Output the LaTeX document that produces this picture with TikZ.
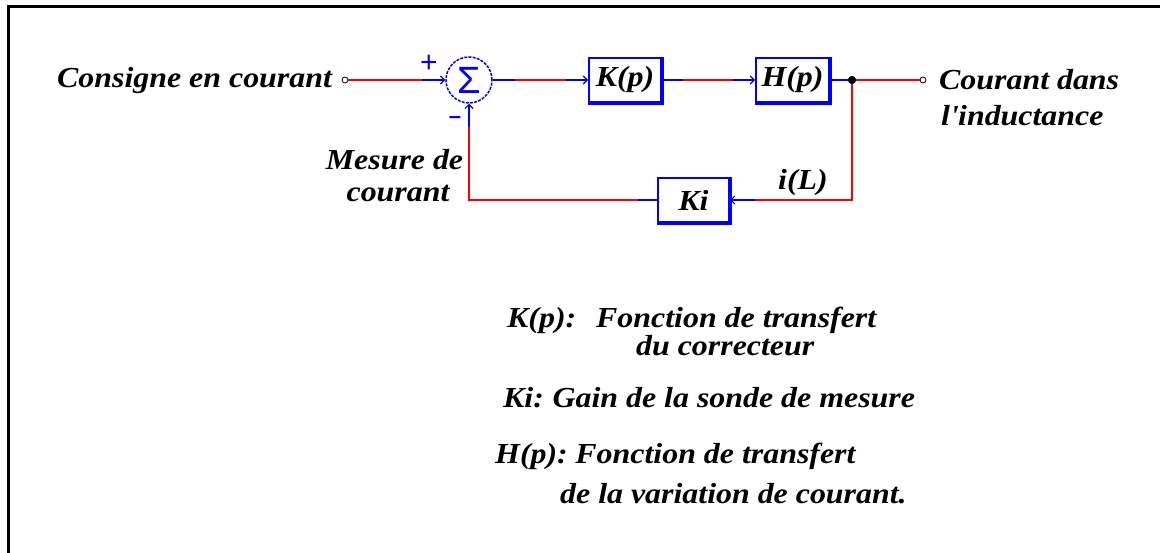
\documentclass[tikz,border=0pt]{standalone}
\usepackage{fontspec}
\usetikzlibrary{arrows.meta}
\newfontfamily\labfont[FakeStretch=1.1]{Liberation Serif}
\newfontfamily\signfont{Liberation Sans}
\definecolor{wire}{RGB}{255,0,0}
\definecolor{blk}{RGB}{0,0,255}

\begin{document}
\begin{tikzpicture}[x=1pt,y=-1pt,
  lab/.style={font=\labfont\bfseries\itshape\fontsize{29}{32}\selectfont, inner sep=0pt},
  block/.style={draw=blk, line width=2pt, minimum width=72pt, minimum height=44pt, inner sep=0pt, lab},
  redw/.style={draw=wire, line width=2pt},
  bluew/.style={draw=blk, line width=2pt},
  tip/.style={-{Straight Barb[length=4pt,width=8pt,line width=1.2pt]}},
  port/.style={circle, draw=black, line width=0.8pt, inner sep=0pt, minimum size=6pt, fill=white},
  sign/.style={text=blk, inner sep=0pt},
  sumnode/.style={circle, draw=blk, line width=1.5pt, dash pattern=on 3pt off 1.2pt,
    minimum size=46pt, inner sep=0pt, text=blk, font=\signfont\fontsize{38}{38}\selectfont},
]
\useasboundingbox (0,0) rectangle (1160,553);

% outer frame (top and left edges)
\draw[line width=2.6pt] (8.7,553) -- (8.7,6.7) -- (1160,6.7);

% blocks
\node[sumnode] (sum) at (469,80) {Σ};
\node[block] (K) at (625,80) {K(p)};
\node[block, minimum width=73pt] (H) at (792.5,80) {H(p)};
\node[block, minimum width=71pt] (Ki) at (693.5,200) {Ki};
\foreach \b in {K,H,Ki}{
  \draw[blk, line width=2pt] ([shift={(1pt,0pt)}]\b.north east) -- ([shift={(1pt,-1pt)}]\b.south east) -- ([shift={(0pt,-1pt)}]\b.south west);
}

% ports and branch point
\node[port] (in) at (345,80) {};
\node[port] (out) at (923,80) {};
\node[circle, fill=black, inner sep=0pt, minimum size=8pt] (tap) at (852,80) {};

% signs of the summing junction
\node[sign, font=\signfont\fontsize{30}{30}\selectfont] (plus) at (429,63.5) {+};
\node[sign, font=\signfont\bfseries\fontsize{22}{22}\selectfont] (minus) at (455,120) {–};

% wire break points
\coordinate (a1) at (422,80);
\coordinate (a2) at (515,80);
\coordinate (a3) at (566,80);
\coordinate (a4) at (683,80);
\coordinate (a5) at (733,80);
\coordinate (fbR) at (852,200);
\coordinate (fb1) at (755,200);
\coordinate (fb2) at (638,200);
\coordinate (fbL) at (469,200);
\coordinate (fb3) at (469,127);

% forward path
\draw[redw] (in) -- (a1);
\draw[bluew, tip] (a1) -- (sum);
\draw[bluew] (sum) -- (a2);
\draw[redw] (a2) -- (a3);
\draw[bluew, tip] (a3) -- (K);
\draw[bluew] (K) -- (a4);
\draw[redw] (a4) -- (a5);
\draw[bluew, tip] (a5) -- (H);
\draw[bluew] (H) -- (tap);
\draw[redw] (tap) -- (out);

% feedback path
\draw[redw] (tap) -- (fbR) -- (fb1);
\draw[bluew, tip] (fb1) -- (Ki);
\draw[bluew] (Ki) -- (fb2);
\draw[redw] (fb2) -- (fbL) -- (fb3);
\draw[bluew, tip] (fb3) -- (sum);
\node[circle, fill=black, inner sep=0pt, minimum size=8pt] at (tap) {};

% signal labels
\node[lab, anchor=base west] (consigne) at (57,88) {Consigne en courant};
\node[lab, anchor=base west] (outl1) at (939,90) {Courant dans};
\node[lab, anchor=base west] (outl2) at (941,126) {l\textquotesingle inductance};
\node[lab, anchor=base] (mes1) at (394.5,170) {Mesure de};
\node[lab, anchor=base] (mes2) at (398,202) {courant};
\node[lab, anchor=base west] (iL) at (778,190) {i(L)};

% legend
\node[lab, anchor=base west] (lk) at (507,328) {K(p):};
\node[lab, anchor=base west] (lk1) at (596,328) {Fonction de transfert};
\node[lab, anchor=base west] (lk2) at (636,356) {du correcteur};
\node[lab, anchor=base west] (lki) at (503,408) {Ki:\hspace{-2pt} Gain de la sonde de mesure};
\node[lab, anchor=base west] (lh1) at (495,464) {H(p):\hspace{-3pt} Fonction de transfert};
\node[lab, anchor=base west] (lh2) at (560,503) {de la variation de courant.};
\end{tikzpicture}
\end{document}
